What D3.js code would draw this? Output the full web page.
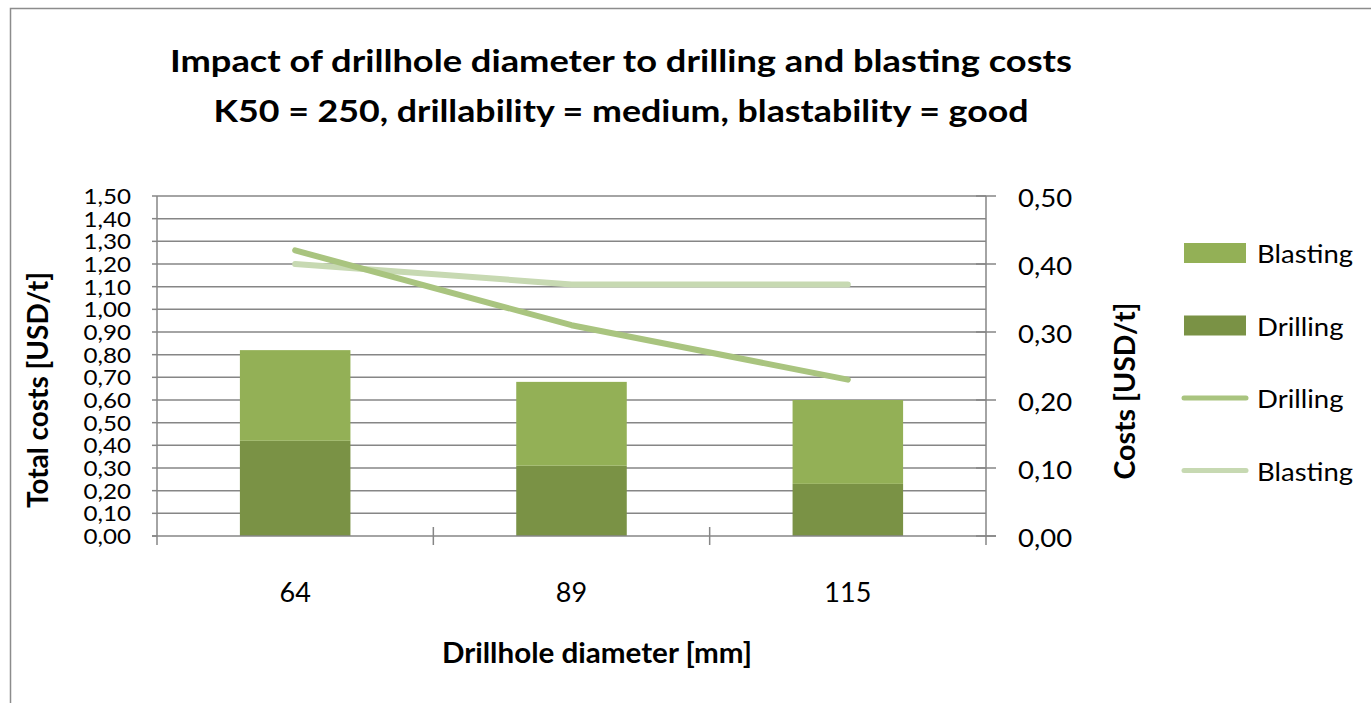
<!DOCTYPE html>
<html><head><meta charset="utf-8">
<script src="https://cdn.jsdelivr.net/npm/d3@7"></script>
<style>
html,body{margin:0;padding:0;background:#fff;}
text{font-family:Lato,"Open Sans",sans-serif;fill:#000;}
</style></head>
<body><svg id="chart" width="1371" height="703"></svg>
<script>
const categories = ["64", "89", "115"];
const drillingBar = [0.42, 0.31, 0.23];
const blastingBar = [0.40, 0.37, 0.37];
const drillingLine = [0.42, 0.31, 0.23];
const blastingLine = [0.40, 0.37, 0.37];
const leftTicks = d3.range(0, 16).map(i => i / 10);
const rightTicks = [0, 0.1, 0.2, 0.3, 0.4, 0.5];
const titleLines = ["Impact of drillhole diameter to drilling and blasting costs",
                    "K50 = 250, drillability = medium, blastability = good"];
const legendItems = [
  {label: "Blasting", type: "rect", color: "#93B056"},
  {label: "Drilling", type: "rect", color: "#7A9245"},
  {label: "Drilling", type: "line", color: "#A9C47F"},
  {label: "Blasting", type: "line", color: "#C7D9B2"}
];

const svg = d3.select("#chart");
const L = 157, R = 986, T = 196, B = 536;
const fmt = v => d3.format(".2f")(v).replace(".", ",");
const grid = "#868686";

// stretch text horizontally to mimic the narrower-height/wider-set original face
function stretch(sel, f) {
  sel.each(function() {
    const w = this.getComputedTextLength();
    d3.select(this).attr("textLength", w * f).attr("lengthAdjust", "spacingAndGlyphs");
  });
}
function fitTo(sel, w) {
  sel.attr("textLength", w).attr("lengthAdjust", "spacingAndGlyphs");
}

svg.append("rect").attr("x", 10.5).attr("y", 8.5).attr("width", 1400).attr("height", 800)
  .attr("fill", "#fff").attr("stroke", "#8c8c8c").attr("stroke-width", 1.5);

const x = d3.scaleBand().domain(categories).range([L, R]).padding(0);
const yL = d3.scaleLinear().domain([0, 1.5]).range([B, T]);
const yR = d3.scaleLinear().domain([0, 0.5]).range([B, T]);

// gridlines
svg.append("g").selectAll("line").data(leftTicks.slice(1)).join("line")
  .attr("x1", L).attr("x2", R).attr("y1", d => yL(d)).attr("y2", d => yL(d))
  .attr("stroke", grid).attr("stroke-width", 1.5);

// bars
const bw = x.bandwidth() / 2.5;
const bars = svg.append("g");
categories.forEach((c, i) => {
  const x0 = x(c) + (x.bandwidth() - bw) / 2;
  bars.append("rect").attr("x", x0).attr("width", bw)
    .attr("y", yL(drillingBar[i])).attr("height", yL(0) - yL(drillingBar[i]))
    .attr("fill", "#7A9245");
  bars.append("rect").attr("x", x0).attr("width", bw)
    .attr("y", yL(drillingBar[i] + blastingBar[i])).attr("height", yL(drillingBar[i]) - yL(drillingBar[i] + blastingBar[i]))
    .attr("fill", "#93B056");
});

// axes lines
svg.append("line").attr("x1", L).attr("x2", L).attr("y1", T).attr("y2", B + 9).attr("stroke", grid).attr("stroke-width", 1.5);
svg.append("line").attr("x1", R).attr("x2", R).attr("y1", T).attr("y2", B + 9).attr("stroke", grid).attr("stroke-width", 1.5);
svg.append("line").attr("x1", L - 5).attr("x2", R + 10).attr("y1", B).attr("y2", B).attr("stroke", grid).attr("stroke-width", 1.5);

// left ticks + labels
const gl = svg.append("g");
gl.selectAll("line").data(leftTicks).join("line")
  .attr("x1", L - 5).attr("x2", L).attr("y1", d => yL(d)).attr("y2", d => yL(d))
  .attr("stroke", grid).attr("stroke-width", 1.5);
gl.selectAll("text").data(leftTicks).join("text")
  .attr("x", 131).attr("y", d => yL(d)).attr("dy", "0.38em").attr("text-anchor", "end")
  .style("font-size", "21px").text(fmt).call(stretch, 1.15);

// right ticks + labels
const gr = svg.append("g");
gr.selectAll("line").data(rightTicks).join("line")
  .attr("x1", R - 10).attr("x2", R + 10).attr("y1", d => yR(d)).attr("y2", d => yR(d))
  .attr("stroke", grid).attr("stroke-width", 1.5);
gr.selectAll("text").data(rightTicks).join("text")
  .attr("x", 1018).attr("y", d => yR(d)).attr("dy", "0.42em").attr("text-anchor", "start")
  .style("font-size", "25px").text(fmt).call(stretch, 1.1);

// bottom ticks at category boundaries
const bounds = categories.map(c => x(c)).slice(1);
svg.append("g").selectAll("line").data(bounds).join("line")
  .attr("x1", d => d).attr("x2", d => d).attr("y1", B - 9).attr("y2", B + 9)
  .attr("stroke", grid).attr("stroke-width", 1.5);
svg.append("g").selectAll("text").data(categories).join("text")
  .attr("x", d => x(d) + x.bandwidth() / 2).attr("y", 602)
  .attr("text-anchor", "middle").style("font-size", "27px").text(d => d);

// lines
const lineGen = d3.line().x((d, i) => x(categories[i]) + x.bandwidth() / 2).y(d => yR(d));
svg.append("path").datum(blastingLine).attr("d", lineGen).attr("fill", "none")
  .attr("stroke", "#C7D9B2").attr("stroke-width", 6).attr("stroke-linecap", "round").attr("stroke-linejoin", "round");
svg.append("path").datum(drillingLine).attr("d", lineGen).attr("fill", "none")
  .attr("stroke", "#A9C47F").attr("stroke-width", 6).attr("stroke-linecap", "round").attr("stroke-linejoin", "round");

// titles
const titleWidths = [902, 815];
svg.selectAll("text.title").data(titleLines).join("text").attr("class", "title")
  .attr("x", 621).attr("y", (d, i) => 72 + i * 50).attr("text-anchor", "middle")
  .style("font-size", "31px").style("font-weight", "bold").text(d => d)
  .attr("textLength", (d, i) => titleWidths[i]).attr("lengthAdjust", "spacingAndGlyphs");

svg.append("text").attr("transform", "translate(48,390) rotate(-90)").attr("text-anchor", "middle")
  .style("font-size", "29px").style("font-weight", "bold").text("Total costs [USD/t]").call(fitTo, 236);
svg.append("text").attr("transform", "translate(1135,391) rotate(-90)").attr("text-anchor", "middle")
  .style("font-size", "29px").style("font-weight", "bold").text("Costs [USD/t]").call(fitTo, 177);
svg.append("text").attr("x", 597).attr("y", 663).attr("text-anchor", "middle")
  .style("font-size", "28px").style("font-weight", "bold").text("Drillhole diameter [mm]").call(fitTo, 310);

// legend
const lg = svg.append("g");
legendItems.forEach((d, i) => {
  const cy = 253 + i * 72.5;
  if (d.type === "rect") {
    lg.append("rect").attr("x", 1184).attr("y", cy - 10).attr("width", 62).attr("height", 20).attr("fill", d.color);
  } else {
    lg.append("line").attr("x1", 1184).attr("x2", 1246).attr("y1", cy).attr("y2", cy)
      .attr("stroke", d.color).attr("stroke-width", 5).attr("stroke-linecap", "round");
  }
  lg.append("text").attr("x", 1257).attr("y", cy + 10).style("font-size", "25px").text(d.label)
    .call(stretch, 1.1);
});
</script></body></html>
